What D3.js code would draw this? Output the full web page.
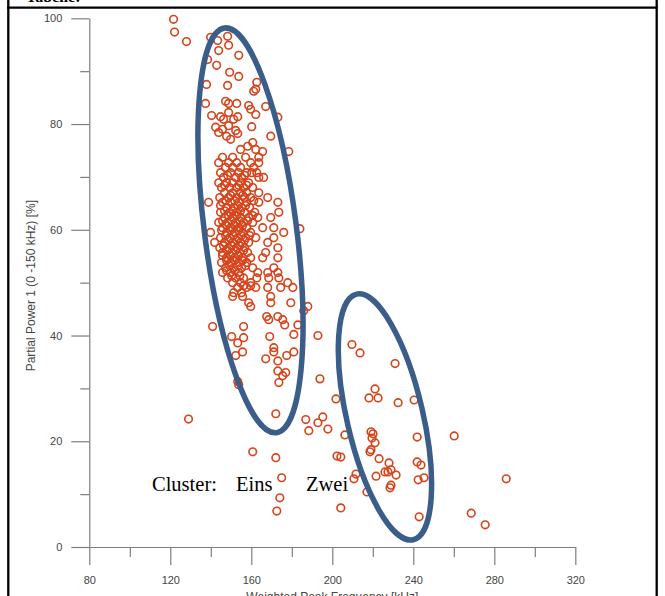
<!DOCTYPE html>
<html><head><meta charset="utf-8">
<script src="https://cdn.jsdelivr.net/npm/d3@7"></script>
<style>html,body{margin:0;padding:0;background:#fff;} svg{display:block;}</style>
</head><body>
<svg id="chart" width="665" height="596"></svg>
<script>
// ---------- data ----------
const xTicks = [80, 120, 160, 200, 240, 280, 320];
const xMinorTicks = [100, 140, 180, 220, 260, 300];
const yTicks = [0, 20, 40, 60, 80, 100];
const yMinorTicks = [10, 30, 50, 70, 90];
const xTitle = "Weighted Peak Frequency [kHz]";
const yTitle = "Partial Power 1 (0 -150 kHz) [%]";
const clusterLabels = ["Cluster:", "Eins", "Zwei"];
const headerText = "Tabelle:";

// upper part of cluster "Eins" [frequency kHz, partial power %]
const pointsUpper = [
[121.6,99.8],[122.1,97.4],[128.0,95.6],[139.9,96.4],[143.4,95.8],[148.3,96.6],[148.8,94.9],[143.9,93.9],
[153.8,93.0],[138.4,92.2],[142.9,91.1],[149.3,89.8],[153.8,89.0],[137.9,87.5],[148.3,87.3],[162.7,87.9],
[161.2,86.2],[162.2,86.6],[137.4,83.9],[147.3,84.3],[148.8,83.9],[152.8,83.9],[158.7,83.5],[167.1,83.3],
[159.7,82.8],[162.2,81.8],[140.4,81.6],[144.8,81.4],[148.8,82.2],[153.3,81.4],[151.3,80.9],[146.3,80.9],
[173.1,81.3],[160.2,79.5],[142.4,79.4],[145.8,79.0],[148.8,79.7],[152.3,78.8],[147.8,77.7],[153.3,78.2],
[143.9,78.4],[149.8,77.1],[169.6,77.7],[160.7,76.5],[178.5,74.8],[154.7,75.2],[158.2,75.8],[162.2,75.2],
[165.6,74.8]
];

// dense core of cluster "Eins": [partial power, [frequencies...]]
const coreRows = [
[73.7,[145.8,150.8,157.2,163.7]],
[72.7,[143.9,148.8,152.8,159.7,163.7]],
[71.8,[147.3,150.8,154.7,161.2]],
[70.8,[144.8,149.8,153.8,157.7,160.2,162.7]],
[70.3,[148.3,156.7]],
[69.9,[146.3,152.3,155.2,163.7,166.1]],
[68.9,[143.9,147.8,150.8,154.7,158.7]],
[68.4,[146.8,153.8,157.7]],
[68.0,[145.3,149.3,152.8,156.2,160.7]],
[67.0,[146.8,150.8,154.7,157.7,163.7]],
[66.5,[149.8,155.7]],
[66.1,[144.4,148.8,152.8,156.7,159.7,168.1]],
[65.5,[147.3,151.8,161.2]],
[65.2,[138.9,145.8,149.8,153.8,157.7,163.7,173.1]],
[64.6,[144.8,153.3,157.2]],
[64.2,[147.8,151.3,155.2,159.2]],
[63.6,[146.8,150.8,154.7]],
[63.3,[144.8,149.3,152.8,156.7,161.7,173.6]],
[62.7,[148.8,152.8,160.7]],
[62.3,[146.8,150.8,154.7,158.7,163.2,169.6]],
[61.7,[145.8,150.3,154.3,158.2]],
[61.4,[143.9,148.3,152.3,156.2,160.7]],
[60.8,[147.8,151.8,155.7]],
[60.4,[145.8,149.8,153.8,157.7,165.6,171.1]],
[60.2,[184.0]],
[59.9,[145.3,149.8,153.8]],
[59.5,[139.9,147.8,151.8,155.7,159.7,176.0]],
[58.9,[147.3,151.3,155.2,159.2]],
[58.5,[144.8,149.3,153.3,157.2,162.2,171.1]],
[58.0,[148.8,152.8,156.7]],
[57.6,[141.9,146.8,150.8,154.7,158.7,168.1]],
[57.0,[146.3,150.3,154.3]],
[56.6,[144.4,148.8,152.8,156.7,173.1]],
[56.1,[148.3,152.3,156.2]],
[55.7,[145.8,150.3,154.3,158.2,167.1]],
[55.1,[145.8,149.8,153.8]],
[54.7,[147.8,151.8,155.7,159.7,165.6,173.1]],
[54.2,[147.8,151.8,155.7]],
[53.8,[145.3,149.8,153.8,157.7]],
[53.2,[149.3,153.3,157.2]],
[52.8,[147.3,151.3,155.2,160.7,171.1]],
[52.3,[147.8,151.8]],
[51.9,[145.8,149.8,153.8,163.2,168.1,173.1]],
[51.3,[150.3,154.3]],
[50.9,[148.3,152.3,156.2,162.7,168.6,173.6]],
[50.0,[150.8,154.7,159.7,178.0]],
[49.4,[156.2,159.7]],
[49.1,[153.3,157.7,162.2,168.1,174.5,180.5]],
[48.1,[151.3,155.2]],
[47.4,[150.8,155.7,169.6]],
[46.2,[158.7,169.6,179.5]],
[45.5,[159.7,187.9]],
[44.7,[185.9]],
[43.6,[167.6,173.1]],
[43.0,[168.6,175.5]],
[42.0,[176.5,183.0]],
[41.7,[140.9,156.2]],
[40.2,[181.0]],
[40.0,[192.9]],
[39.8,[150.3,169.1]],
[39.6,[156.2]],
[38.6,[153.3]],
[37.7,[171.1]],
[36.9,[155.7,171.1,181.0]],
[36.2,[152.3,177.5]],
[35.6,[167.1]],
[35.2,[173.1]],
[33.3,[173.1]],
[33.0,[177.0]],
[32.4,[175.5]],
[31.8,[193.9]],
[31.3,[153.3]],
[31.1,[173.6]],
[30.7,[153.8]],
[28.0,[201.8]],
[25.2,[172.1]],
[24.2,[129.0]]
];

// cluster "Zwei" and remaining points
const pointsLower = [
[209.7,38.3],[213.7,36.7],[231.0,34.7],[221.1,29.9],[218.1,28.2],[222.6,28.2],[232.5,27.3],[240.4,27.8],
[186.9,24.1],[192.9,23.5],[195.3,24.6],[188.4,22.0],[197.8,22.3],[206.2,21.2],[219.1,21.8],[220.1,21.4],
[219.6,20.6],[221.1,19.7],[219.1,18.4],[218.6,18.0],[223.1,16.7],[241.9,20.8],[241.9,16.1],[243.8,15.5],
[226.0,14.2],[228.0,15.9],[229.0,14.6],[227.5,14.2],[231.5,13.6],[229.0,11.7],[228.5,11.2],[221.6,13.4],
[211.7,13.8],[210.7,12.9],[217.1,10.4],[242.4,12.7],[245.3,13.1],[242.9,5.7],[260.2,21.0],[285.9,12.9],
[268.6,6.4],[275.5,4.2],[202.3,17.2],[204.2,17.0],[204.2,7.4],[160.7,18.0],[172.1,16.9],[175.0,13.1],
[174.1,9.3],[172.6,6.8]
];

// cluster outline annotations: centre in data units
const clusterCentres = [[159.6, 59.9], [226.0, 24.6]];

// ---------- drawing ----------
const svg = d3.select("#chart");
const x = d3.scaleLinear().domain([80, 320]).range([89.3, 575.3]);
const y = d3.scaleLinear().domain([0, 100]).range([547, 18.3]);

const axisColor = "#7d7d7d";
const labelColor = "#454545";
const sans = "'Liberation Sans', Arial, sans-serif";
const serif = "'Liberation Serif', 'Times New Roman', serif";

// page frame (table cell)
svg.append("text").attr("x", 26).attr("y", 2).attr("font-family", serif)
  .attr("font-weight", "bold").attr("font-size", 16).attr("fill", "#000").text(headerText);
const frame = svg.append("g").attr("stroke", "#000").attr("stroke-width", 2.3);
frame.append("line").attr("x1", 7).attr("x2", 658).attr("y1", 7.7).attr("y2", 7.7);
frame.append("line").attr("x1", 8.3).attr("x2", 8.3).attr("y1", 0).attr("y2", 596);
frame.append("line").attr("x1", 656.7).attr("x2", 656.7).attr("y1", 0).attr("y2", 596);

function styleAxis(g) {
  g.selectAll("path,line").attr("stroke", axisColor).attr("stroke-width", 1.2);
  g.selectAll("text").attr("fill", labelColor).attr("font-family", sans).attr("font-size", 11);
}

// x axis
const gx = svg.append("g").attr("transform", `translate(0,${y(0)})`)
  .call(d3.axisBottom(x).tickValues(xTicks).tickSize(18).tickSizeOuter(0).tickPadding(11).tickFormat(d3.format("d")));
styleAxis(gx);
const gxm = svg.append("g").attr("transform", `translate(0,${y(0)})`)
  .call(d3.axisBottom(x).tickValues(xMinorTicks).tickSize(10).tickSizeOuter(0).tickFormat(""));
gxm.select(".domain").remove();
styleAxis(gxm);

// y axis
const gy = svg.append("g").attr("transform", `translate(${x(80)},0)`)
  .call(d3.axisLeft(y).tickValues(yTicks).tickSize(18).tickSizeOuter(0).tickPadding(9).tickFormat(d3.format("d")));
styleAxis(gy);
const gym = svg.append("g").attr("transform", `translate(${x(80)},0)`)
  .call(d3.axisLeft(y).tickValues(yMinorTicks).tickSize(9).tickSizeOuter(0).tickFormat(""));
gym.select(".domain").remove();
styleAxis(gym);

// axis titles
svg.append("text").attr("x", (x(80) + x(320)) / 2).attr("y", 601)
  .attr("text-anchor", "middle").attr("font-family", sans).attr("font-size", 12)
  .attr("fill", labelColor).text(xTitle);
svg.append("text").attr("transform", `translate(35,${(y(0) + y(100)) / 2 + 3}) rotate(-90)`)
  .attr("text-anchor", "middle").attr("font-family", sans).attr("font-size", 12)
  .attr("fill", labelColor).text(yTitle);

// points
const corePoints = coreRows.flatMap(([p, fs]) => fs.map(f => [f, p]));
const allPoints = pointsUpper.concat(corePoints, pointsLower);
svg.append("g").selectAll("circle").data(allPoints).join("circle")
  .attr("cx", d => x(d[0])).attr("cy", d => y(d[1])).attr("r", 3.8)
  .attr("fill", "none").attr("stroke", "#d5441b").attr("stroke-width", 1.6);

// cluster outlines
const outlineShape = [{rx: 46, ry: 204, rot: -7.3}, {rx: 38, ry: 126, rot: -13}];
svg.append("g").selectAll("ellipse").data(clusterCentres).join("ellipse")
  .attr("transform", (d, i) => `translate(${x(d[0])},${y(d[1])}) rotate(${outlineShape[i].rot})`)
  .attr("rx", (d, i) => outlineShape[i].rx).attr("ry", (d, i) => outlineShape[i].ry)
  .attr("fill", "none").attr("stroke", "#3a5d8a").attr("stroke-width", 5.5);

// cluster labels
const labelX = [152, 236, 306];
svg.append("g").selectAll("text").data(clusterLabels).join("text")
  .attr("x", (d, i) => labelX[i]).attr("y", 491)
  .attr("font-family", serif).attr("font-size", 20.5).attr("fill", "#000").text(d => d);
</script>
</body></html>
